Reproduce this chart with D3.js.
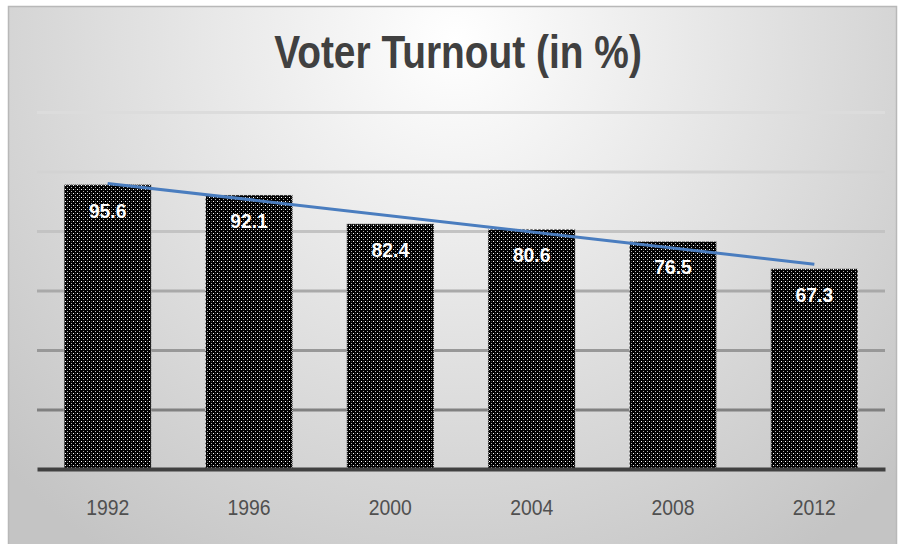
<!DOCTYPE html>
<html>
<head>
<meta charset="utf-8">
<script src="https://cdn.jsdelivr.net/npm/d3@7"></script>
<style>
  html, body { margin: 0; padding: 0; background: #ffffff; }
  svg { display: block; }
</style>
</head>
<body>
<svg id="chart" width="899" height="544"></svg>
<script>
// Voter turnout by election year
const years = ["1992", "1996", "2000", "2004", "2008", "2012"];
const turnout = [95.6, 92.1, 82.4, 80.6, 76.5, 67.3];
const gridTicks = [0, 20, 40, 60, 80, 100, 120];
const titleText = "Voter Turnout (in %)";

const sans = "'Liberation Sans', Arial, sans-serif";

const svg = d3.select("#chart");
const defs = svg.append("defs");

// Soft radial shading for the chart area
const bg = defs.append("radialGradient")
  .attr("id", "bgGrad")
  .attr("gradientUnits", "userSpaceOnUse")
  .attr("cx", 455).attr("cy", 40).attr("r", 620);
bg.append("stop").attr("offset", "0%").attr("stop-color", "#ffffff");
bg.append("stop").attr("offset", "100%").attr("stop-color", "#c4c4c4");

// Dotted fill used for the bars
const pat = defs.append("pattern")
  .attr("id", "dots")
  .attr("patternUnits", "userSpaceOnUse")
  .attr("width", 4).attr("height", 4);
pat.append("rect").attr("width", 4).attr("height", 4).attr("fill", "#000");
pat.append("rect").attr("x", 1).attr("y", 1).attr("width", 1).attr("height", 1).attr("fill", "#ffffff");
pat.append("rect").attr("x", 3).attr("y", 3).attr("width", 1).attr("height", 1).attr("fill", "#b4b4b4");
pat.append("rect").attr("x", 3).attr("y", 1).attr("width", 1).attr("height", 1).attr("fill", "#3c3c3c");

// Chart frame
svg.append("rect")
  .attr("x", 8.5).attr("y", 6.5)
  .attr("width", 888).attr("height", 545)
  .attr("fill", "url(#bgGrad)")
  .attr("stroke", "#b8b8b8")
  .attr("stroke-width", 1.5);

const plot = { left: 37, right: 885, top: 112, bottom: 469 };

const x = d3.scaleBand()
  .domain(years)
  .range([plot.left, plot.right])
  .paddingInner(0.384)
  .paddingOuter(0.192);

const y = d3.scaleLinear()
  .domain([0, 120])
  .range([plot.bottom, plot.top]);

// Gridlines darken toward the baseline
const gridColor = d3.scaleLinear()
  .domain([120, 100, 80, 60, 40, 20])
  .range(["#dcdcdc", "#d3d3d3", "#c3c3c3", "#a9a9a9", "#989898", "#808080"]);

const yAxis = d3.axisLeft(y)
  .tickValues(gridTicks.filter(d => d > 0))
  .tickSize(-(plot.right - plot.left))
  .tickFormat("");

const gGrid = svg.append("g")
  .attr("transform", `translate(${plot.left},0)`)
  .call(yAxis);
gGrid.select(".domain").remove();
gGrid.selectAll(".tick line")
  .attr("stroke", d => gridColor(d))
  .attr("stroke-width", 3);

// Bars
svg.append("g").selectAll("rect")
  .data(turnout)
  .join("rect")
  .attr("x", (d, i) => x(years[i]))
  .attr("y", d => y(d))
  .attr("width", x.bandwidth())
  .attr("height", d => y(0) - y(d))
  .attr("fill", "url(#dots)")
  .attr("stroke", "#d0d0d0")
  .attr("stroke-width", 1)
  .attr("stroke-dasharray", "1,1");

// Category axis with baseline
const xAxis = d3.axisBottom(x).tickSize(0).tickPadding(0);
const gX = svg.append("g")
  .attr("transform", `translate(0,${plot.bottom})`)
  .call(xAxis);
gX.select(".domain")
  .attr("stroke", "#404040")
  .attr("stroke-width", 4);
gX.selectAll(".tick text")
  .attr("y", 0)
  .attr("dy", 0)
  .attr("transform", "translate(0,46) scale(0.88,1)")
  .attr("fill", "#505050")
  .style("font-family", sans)
  .style("font-size", "22px");

// Linear trend line (least squares over category index)
const idx = turnout.map((d, i) => i + 1);
const mx = d3.mean(idx), my = d3.mean(turnout);
const slope = d3.sum(idx, (v, i) => (v - mx) * (turnout[i] - my)) / d3.sum(idx, v => (v - mx) ** 2);
const intercept = my - slope * mx;
const trend = [idx[0], idx[idx.length - 1]].map(v => [v, intercept + slope * v]);
svg.append("path")
  .datum(trend)
  .attr("fill", "none")
  .attr("stroke", "#4a7dbf")
  .attr("stroke-width", 3)
  .attr("d", d3.line()
    .x(d => x(years[d[0] - 1]) + x.bandwidth() / 2)
    .y(d => y(d[1])));

// Value labels inside bars
svg.append("g").selectAll("text")
  .data(turnout)
  .join("text")
  .attr("transform", (d, i) =>
    `translate(${x(years[i]) + x.bandwidth() / 2},${y(d) + 33}) scale(0.92,1)`)
  .attr("text-anchor", "middle")
  .attr("fill", "#ffffff")
  .style("font-family", sans)
  .style("font-weight", "bold")
  .style("font-size", "21px")
  .text(d => d.toFixed(1));

// Title
svg.append("text")
  .attr("transform", "translate(458,68) scale(0.845,1)")
  .attr("text-anchor", "middle")
  .attr("fill", "#404040")
  .style("font-family", sans)
  .style("font-weight", "bold")
  .style("font-size", "46px")
  .text(titleText);
</script>
</body>
</html>
